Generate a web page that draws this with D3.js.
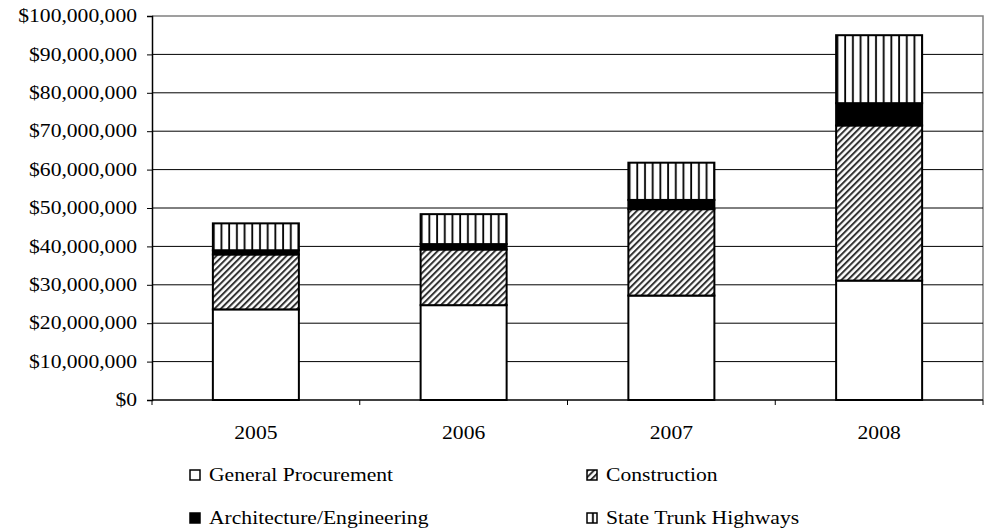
<!DOCTYPE html>
<html>
<head>
<meta charset="utf-8">
<script src="https://cdn.jsdelivr.net/npm/d3@7"></script>
<style>
  body { margin: 0; background: #fff; }
</style>
</head>
<body>
<svg id="chart" width="992" height="531"></svg>
<script>
// data (millions of dollars)
const years = ["2005", "2006", "2007", "2008"];
const generalProcurement = [23.6, 24.7, 27.2, 31.1];
const construction = [14.3, 14.5, 22.5, 40.4];
const archEngineering = [1.1, 1.4, 2.4, 5.8];
const stateTrunkHighways = [7.0, 7.8, 9.7, 17.7];
const seriesNames = ["General Procurement", "Construction", "Architecture/Engineering", "State Trunk Highways"];
const yTicks = [0, 10, 20, 30, 40, 50, 60, 70, 80, 90, 100];

const rows = years.map((yr, i) => ({
    year: yr,
    "General Procurement": generalProcurement[i],
    "Construction": construction[i],
    "Architecture/Engineering": archEngineering[i],
    "State Trunk Highways": stateTrunkHighways[i]
}));

const svg = d3.select("#chart");
const plotL = 152, plotR = 983, plotT = 16, plotB = 400;
const serif = "'Liberation Serif', 'DejaVu Serif', serif";
const fontSize = 18, stretch = 1.2;

const x = d3.scaleBand().domain(years).range([plotL, plotR]);
const y = d3.scaleLinear().domain([0, 100]).range([plotB, plotT]);
const barW = x.bandwidth() * 0.414;

// patterns
const defs = svg.append("defs");
const diag = defs.append("pattern").attr("id", "diag")
    .attr("patternUnits", "userSpaceOnUse").attr("width", 4.5).attr("height", 4.5)
    .attr("patternTransform", "rotate(45)");
diag.append("rect").attr("width", 4.5).attr("height", 4.5).attr("fill", "#fff");
diag.append("rect").attr("width", 2).attr("height", 4.5).attr("fill", "#333");

const vert = defs.append("pattern").attr("id", "vert")
    .attr("patternUnits", "userSpaceOnUse").attr("width", 7.7).attr("height", 10);
vert.append("rect").attr("width", 7.7).attr("height", 10).attr("fill", "#fff");
vert.append("rect").attr("x", 5).attr("width", 1.8).attr("height", 10).attr("fill", "#000");

const fills = {
    "General Procurement": "#fff",
    "Construction": "url(#diag)",
    "Architecture/Engineering": "#000",
    "State Trunk Highways": "url(#vert)"
};

// plot border (gray top/right)
svg.append("path")
    .attr("d", `M${plotL},${plotT}H${plotR}V${plotB}`)
    .attr("fill", "none").attr("stroke", "#808080").attr("stroke-width", 1.5);

// gridlines
svg.append("g").selectAll("line")
    .data(yTicks.filter(t => t > 0 && t < 100))
    .join("line")
    .attr("x1", plotL).attr("x2", plotR)
    .attr("y1", d => y(d)).attr("y2", d => y(d))
    .attr("stroke", "#000").attr("stroke-width", 1);

// bars
const stacked = d3.stack().keys(seriesNames)(rows);
svg.append("g").selectAll("g")
    .data(stacked)
    .join("g")
    .attr("fill", d => fills[d.key])
    .selectAll("rect")
    .data(d => d)
    .join("rect")
    .attr("x", d => x(d.data.year) + (x.bandwidth() - barW) / 2)
    .attr("width", barW)
    .attr("y", d => y(d[1]))
    .attr("height", d => y(d[0]) - y(d[1]))
    .attr("stroke", "#000").attr("stroke-width", 2);

// y axis
const yAxis = svg.append("g")
    .attr("transform", `translate(${plotL},0)`)
    .call(d3.axisLeft(y).tickValues(yTicks).tickSize(5).tickPadding(10)
        .tickFormat(d => "$" + d3.format(",")(d * 1000000)));
yAxis.attr("font-family", serif).attr("font-size", fontSize);
yAxis.select(".domain").attr("stroke", "#000").attr("stroke-width", 1.5);
yAxis.selectAll(".tick line").attr("stroke", "#000");
yAxis.selectAll(".tick text")
    .attr("fill", "#000")
    .each(function () {
        const t = d3.select(this);
        const xx = +t.attr("x");
        t.attr("x", null).attr("transform", `translate(${xx},0) scale(${stretch},1)`);
    });

// x axis line and boundary ticks
svg.append("line").attr("x1", plotL).attr("x2", plotR)
    .attr("y1", plotB).attr("y2", plotB)
    .attr("stroke", "#000").attr("stroke-width", 1.5);
svg.append("g").selectAll("line")
    .data(years.concat(["end"]))
    .join("line")
    .attr("x1", (d, i) => i < years.length ? x(d) : plotR)
    .attr("x2", (d, i) => i < years.length ? x(d) : plotR)
    .attr("y1", plotB).attr("y2", plotB + 5)
    .attr("stroke", "#000");
svg.append("g").selectAll("text")
    .data(years)
    .join("text")
    .attr("text-anchor", "middle")
    .attr("font-family", serif)
    .attr("font-size", fontSize)
    .attr("transform", d => `translate(${x(d) + x.bandwidth() / 2},439) scale(${stretch},1)`)
    .text(d => d);

// legend
const legendPos = [[190, 476], [587, 476], [190, 519], [587, 519]];
const legend = svg.append("g").selectAll("g")
    .data(seriesNames)
    .join("g")
    .attr("transform", (d, i) => `translate(${legendPos[i][0]},${legendPos[i][1]})`);
legend.append("rect")
    .attr("x", 0).attr("y", -6).attr("width", 10).attr("height", 10)
    .attr("fill", d => fills[d]).attr("stroke", "#000").attr("stroke-width", 1.5);
legend.append("text")
    .attr("font-family", serif)
    .attr("font-size", fontSize)
    .attr("transform", `translate(19,5) scale(${stretch},1)`)
    .text(d => d);
</script>
</body>
</html>
